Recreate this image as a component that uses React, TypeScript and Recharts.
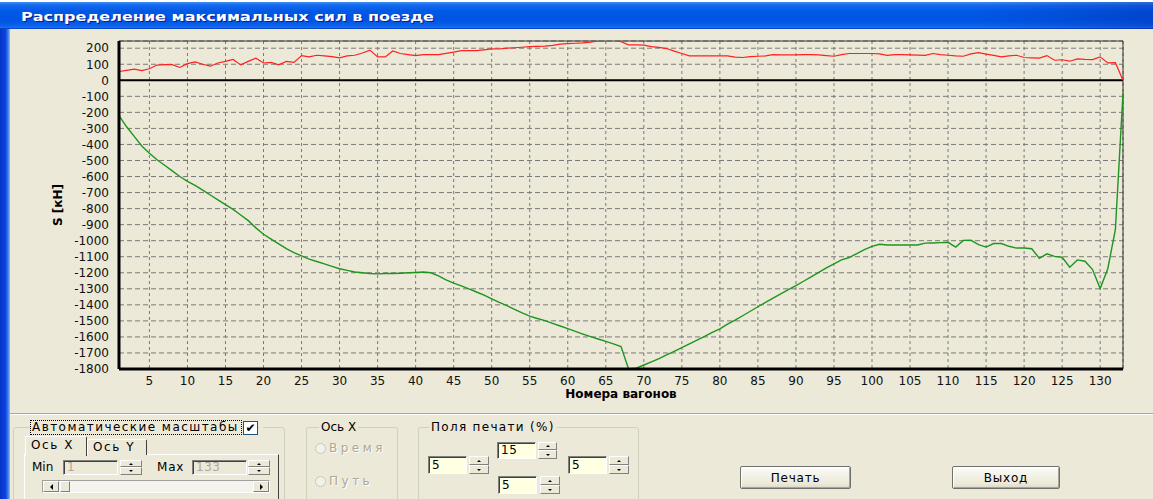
import React from 'react';
import {
  LineChart,
  Line,
  XAxis,
  YAxis,
  CartesianGrid,
  ReferenceLine,
} from 'recharts';

// ---- data ----
const cars: number[] = Array.from({ length: 133 }, (_, i) => i + 1);

const redValues: number[] = [
  55, 62, 70, 60, 72, 95, 98, 98, 80, 104,
  115, 100, 88, 108, 118, 130, 96, 118, 138, 108,
  112, 96, 118, 112, 154, 146, 156, 152, 148, 140,
  152, 156, 170, 188, 146, 146, 183, 167, 160, 154,
  160, 160, 160, 168, 176, 185, 185, 185, 190, 196,
  195, 200, 203, 206, 210, 212, 213, 218, 225, 229,
  231, 233, 238, 245, 260, 260, 240, 221, 221, 219,
  210, 205, 198, 182, 167, 152, 152, 152, 152, 152,
  152, 145, 142, 147, 150, 152, 160, 158, 158, 158,
  160, 160, 158, 154, 150, 160, 167, 167, 167, 167,
  165, 156, 160, 160, 158, 157, 156, 167, 160, 156,
  152, 150, 165, 173, 163, 155, 146, 152, 156, 142,
  140, 138, 154, 125, 128, 119, 133, 130, 129, 146,
  108, 110, 0,
];

const greenValues: number[] = [
  -220, -290, -350, -410, -455, -495, -530, -565, -600, -630,
  -655, -685, -715, -745, -775, -805, -840, -875, -920, -960,
  -990, -1020, -1050, -1075, -1095, -1115, -1130, -1145, -1160, -1175,
  -1185, -1195, -1200, -1205, -1207, -1205, -1205, -1203, -1200, -1198,
  -1195, -1200, -1220, -1245, -1265, -1282, -1300, -1320, -1340, -1363,
  -1385, -1405, -1428, -1450, -1470, -1485, -1498, -1515, -1532, -1548,
  -1565, -1582, -1598, -1613, -1628, -1643, -1660, -1800, -1795, -1775,
  -1755, -1735, -1712, -1690, -1667, -1643, -1620, -1596, -1572, -1550,
  -1520, -1495, -1468, -1440, -1412, -1385, -1358, -1332, -1305, -1280,
  -1253, -1225, -1198, -1170, -1145, -1120, -1105, -1080, -1055, -1035,
  -1022, -1027, -1027, -1027, -1027, -1027, -1015, -1014, -1012, -1010,
  -1040, -998, -997, -1025, -1040, -1018, -1018, -1035, -1046, -1046,
  -1050, -1110, -1082, -1098, -1103, -1165, -1120, -1128, -1180, -1298,
  -1175, -930, -80,
];

const xTicks: number[] = [5, 10, 15, 20, 25, 30, 35, 40, 45, 50, 55, 60, 65, 70, 75, 80, 85, 90, 95, 100, 105, 110, 115, 120, 125, 130];
const yTicks: number[] = [200, 100, 0, -100, -200, -300, -400, -500, -600, -700, -800, -900, -1000, -1100, -1200, -1300, -1400, -1500, -1600, -1700, -1800];

const tableData = cars.map((car, i) => ({ car, red: redValues[i], green: greenValues[i] }));

const UI_FONT = '"DejaVu Sans", Verdana, sans-serif';
const BEIGE = '#ECE9D8';

// ---- small UI widgets ----
const abs = (x: number, y: number, w: number, h: number): React.CSSProperties => ({
  position: 'absolute', left: x, top: y, width: w, height: h, boxSizing: 'border-box',
});

const Tri = ({ dir, size = 3 }: { dir: 'up' | 'down' | 'left' | 'right'; size?: number }) => {
  const s: React.CSSProperties = { width: 0, height: 0 };
  if (dir === 'up') Object.assign(s, { borderLeft: `${size}px solid transparent`, borderRight: `${size}px solid transparent`, borderBottom: `${size}px solid #000` });
  if (dir === 'down') Object.assign(s, { borderLeft: `${size}px solid transparent`, borderRight: `${size}px solid transparent`, borderTop: `${size}px solid #000` });
  if (dir === 'left') Object.assign(s, { borderTop: `${size}px solid transparent`, borderBottom: `${size}px solid transparent`, borderRight: `${size}px solid #000` });
  if (dir === 'right') Object.assign(s, { borderTop: `${size}px solid transparent`, borderBottom: `${size}px solid transparent`, borderLeft: `${size}px solid #000` });
  return <div style={s} />;
};

const RaisedBox = ({ style, children }: { style: React.CSSProperties; children?: React.ReactNode }) => (
  <div
    style={{
      ...style,
      background: BEIGE,
      borderStyle: 'solid',
      borderWidth: 1,
      borderColor: '#fff #808080 #808080 #fff',
      display: 'flex',
      alignItems: 'center',
      justifyContent: 'center',
    }}
  >
    {children}
  </div>
);

const Spinner = ({ x, y, w, h }: { x: number; y: number; w: number; h: number }) => {
  const half = Math.floor(h / 2);
  return (
    <>
      <RaisedBox style={abs(x, y, w, half)}>
        <Tri dir="up" size={2} />
      </RaisedBox>
      <RaisedBox style={abs(x, y + half, w, h - half)}>
        <Tri dir="down" size={2} />
      </RaisedBox>
    </>
  );
};

const Edit = ({ x, y, w, h, text, bg, color }: { x: number; y: number; w: number; h: number; text: string; bg: string; color: string }) => (
  <div
    style={{
      ...abs(x, y, w, h),
      background: bg,
      borderStyle: 'solid',
      borderWidth: 1,
      borderColor: '#808080 #fff #fff #808080',
      boxShadow: 'inset 1px 1px 0 #404040',
      fontFamily: UI_FONT,
      fontSize: 12,
      color,
      lineHeight: `${h - 2}px`,
      paddingLeft: 3,
      letterSpacing: 0.5,
    }}
  >
    {text}
  </div>
);

const GroupBox = ({ x, y, w, h }: { x: number; y: number; w: number; h: number }) => (
  <div style={{ ...abs(x, y, w, h), border: '1px solid #d0d0bf', borderRadius: 3 }} />
);

const Label = ({ x, y, text, color = '#000', spacing = 0, bg, size = 12 }: { x: number; y: number; text: string; color?: string; spacing?: number; bg?: string; size?: number }) => (
  <div
    style={{
      position: 'absolute', left: x, top: y, fontFamily: UI_FONT, fontSize: size, lineHeight: '14px',
      color, whiteSpace: 'nowrap', letterSpacing: spacing, background: bg, padding: bg ? '0 2px' : undefined,
    }}
  >
    {text}
  </div>
);

const Button = ({ x, y, w, h, label }: { x: number; y: number; w: number; h: number; label: string }) => (
  <div
    style={{
      ...abs(x, y, w, h),
      border: '1px solid #6f6f6f',
      borderRadius: 2,
      background: 'linear-gradient(#fbfbf8, #ece9d8 80%, #dcd8c8)',
      boxShadow: 'inset 1px 1px 0 #fff, inset -1px -1px 0 #a8a596',
      display: 'flex', alignItems: 'center', justifyContent: 'center',
      fontFamily: UI_FONT, fontSize: 12, letterSpacing: 0.8, color: '#000',
    }}
  >
    {label}
  </div>
);

const Radio = ({ x, y, label }: { x: number; y: number; label: string }) => (
  <>
    <div style={{ ...abs(x, y - 5, 11, 11), borderRadius: '50%', border: '1px solid #c9c7ba', background: '#f2f1ea' }} />
    <div
      style={{
        position: 'absolute', left: x + 14, top: y - 7, fontFamily: UI_FONT, fontSize: 12,
        lineHeight: '14px', color: '#aca899', textShadow: '1px 1px 0 #fff', whiteSpace: 'nowrap', letterSpacing: 3.5,
      }}
    >
      {label}
    </div>
  </>
);

export default function App() {
  return (
    <div style={{ position: 'absolute', left: 0, top: 0, width: 1153, height: 499, overflow: 'hidden', background: BEIGE }}>
      {/* white strip above window */}
      <div style={{ ...abs(0, 0, 1153, 2), background: '#fff' }} />
      {/* title bar */}
      <div
        style={{
          ...abs(0, 2, 1153, 27),
          background:
            'linear-gradient(to right, rgba(0,0,0,0) 85%, rgba(0,20,140,0.25) 100%), linear-gradient(#3d8cf5 0%, #1469ee 12%, #0058e6 35%, #0055e2 70%, #0a62ec 88%, #1a6ff0 94%, #0035b8 100%)',
        }}
      />
      <svg style={{ position: 'absolute', left: 0, top: 2 }} width={600} height={27}>
        <text
          x={21}
          y={19}
          textLength={413}
          lengthAdjust="spacingAndGlyphs"
          fontFamily={UI_FONT}
          fontWeight="bold"
          fontSize={13}
          fill="#ffffff"
          style={{ textShadow: '1px 1px 0 #0a1e8c' }}
        >
          Распределение максимальных сил в поезде
        </text>
      </svg>
      {/* left frame */}
      <div style={{ ...abs(0, 29, 10, 470), background: 'linear-gradient(to right, #0831c8 0%, #0a46dc 55%, #3a7cf0 80%, #9ab8f0 100%)' }} />

      {/* chart */}
      <div style={{ position: 'absolute', left: 0, top: 0 }}>
        <LineChart width={1153} height={410} data={tableData} margin={{ top: 41, right: 30, bottom: 0, left: 0 }}>
          <CartesianGrid horizontal={false} strokeDasharray="3 3" stroke="#7a7a7a" />
          <CartesianGrid vertical={false} strokeDasharray="5 3" stroke="#7a7a7a" />
          <XAxis
            dataKey="car"
            type="number"
            domain={[1, 133]}
            ticks={xTicks}
            interval={0}
            height={41}
            axisLine={{ stroke: '#000', strokeWidth: 3 }}
            tickLine={false}
            tickMargin={1}
            tick={{ fill: '#111', fontSize: 12, fontFamily: UI_FONT }}
            label={{ value: 'Номера вагонов', position: 'insideBottom', offset: 12, fontWeight: 'bold', fontSize: 12, fill: '#000', fontFamily: UI_FONT }}
          />
          <YAxis
            type="number"
            domain={[-1800, 245]}
            allowDataOverflow
            ticks={yTicks}
            interval={0}
            width={119}
            axisLine={{ stroke: '#000', strokeWidth: 3 }}
            tickLine={false}
            tickMargin={4}
            tick={{ fill: '#111', fontSize: 12, fontFamily: UI_FONT }}
            label={{ value: 'S [кН]', angle: -90, position: 'center', dx: -2, fontWeight: 'bold', fontSize: 12, fill: '#000', fontFamily: UI_FONT }}
          />
          <ReferenceLine y={245} stroke="#333" strokeWidth={1} />
          <ReferenceLine x={133} stroke="#333" strokeWidth={1} />
          <ReferenceLine y={0} stroke="#000" strokeWidth={2} />
          <Line type="linear" dataKey="red" stroke="#ff2020" strokeWidth={1.2} dot={false} isAnimationActive={false} />
          <Line type="linear" dataKey="green" stroke="#1e951e" strokeWidth={1.4} dot={false} isAnimationActive={false} />
        </LineChart>
      </div>

      {/* separator */}
      <div style={{ ...abs(10, 413, 1143, 1), background: '#aca899' }} />
      <div style={{ ...abs(10, 414, 1143, 1), background: '#fff' }} />

      {/* group 1: auto scales */}
      <GroupBox x={13} y={427} w={272} h={100} />
      <div style={{ ...abs(30, 420, 212, 15), background: BEIGE, border: '1px dotted #000' }} />
      <Label x={32} y={420} text="Автоматические масштабы" spacing={1.45} />
      <div style={{ ...abs(243, 421, 15, 14), background: '#fff', border: '1px solid #1c5180', fontFamily: UI_FONT, fontSize: 12, lineHeight: '12px', textAlign: 'center', fontWeight: 'bold' }}>✔</div>
      <div style={{ ...abs(259, 426, 4, 2), background: BEIGE }} />
      {/* tab control */}
      <div style={{ ...abs(24, 454, 255, 70), background: BEIGE, borderStyle: 'solid', borderWidth: 1, borderColor: '#fff #404040 #404040 #fff' }} />
      <div style={{ ...abs(87, 439, 60, 16), background: BEIGE, borderStyle: 'solid', borderWidth: '1px 1px 0 1px', borderColor: '#fff #404040 #fff #fff', borderRadius: '2px 2px 0 0' }} />
      <Label x={93} y={440} text="Ось Y" spacing={1.6} />
      <div style={{ ...abs(25, 436, 62, 20), background: BEIGE, borderStyle: 'solid', borderWidth: '1px 1px 0 1px', borderColor: '#fff #404040 #fff #fff', borderRadius: '2px 2px 0 0' }} />
      <Label x={31} y={438} text="Ось X" spacing={1.6} />
      <Label x={32} y={460} text="Min" />
      <Edit x={63} y={460} w={55} h={15} text="1" bg={BEIGE} color="#aca899" />
      <Spinner x={120} y={460} w={22} h={15} />
      <Label x={157} y={460} text="Max" spacing={0.8} />
      <Edit x={192} y={460} w={55} h={15} text="133" bg={BEIGE} color="#aca899" />
      <Spinner x={248} y={460} w={22} h={15} />
      {/* scrollbar */}
      <div style={{ ...abs(42, 480, 228, 13), background: '#f4f3ee', borderStyle: 'solid', borderWidth: 1, borderColor: '#a0a0a0 #fff #fff #a0a0a0' }} />
      <RaisedBox style={abs(43, 481, 16, 11)}>
        <Tri dir="left" size={3} />
      </RaisedBox>
      <RaisedBox style={abs(60, 481, 10, 11)} />
      <RaisedBox style={abs(253, 481, 16, 11)}>
        <Tri dir="right" size={3} />
      </RaisedBox>

      {/* group 2: axis X */}
      <GroupBox x={306} y={427} w={92} h={100} />
      <Label x={319} y={420} text="Ось X" bg={BEIGE} />
      <Radio x={315} y={448} label="Время" />
      <Radio x={315} y={481} label="Путь" />

      {/* group 3: print margins */}
      <GroupBox x={418} y={427} w={221} h={100} />
      <Label x={429} y={420} text="Поля печати (%)" spacing={1.3} bg={BEIGE} />
      <Edit x={497} y={442} w={39} h={17} text="15" bg="#ffffe1" color="#000" />
      <Spinner x={538} y={442} w={19} h={17} />
      <Edit x={428} y={456} w={39} h={18} text="5" bg="#ffffe1" color="#000" />
      <Spinner x={469} y={456} w={20} h={18} />
      <Edit x={568} y={456} w={39} h={18} text="5" bg="#ffffe1" color="#000" />
      <Spinner x={609} y={456} w={20} h={18} />
      <Edit x={498} y={476} w={39} h={18} text="5" bg="#ffffe1" color="#000" />
      <Spinner x={540} y={476} w={20} h={18} />

      {/* buttons */}
      <Button x={740} y={466} w={111} h={23} label="Печать" />
      <Button x={952} y={466} w={108} h={23} label="Выход" />
    </div>
  );
}
